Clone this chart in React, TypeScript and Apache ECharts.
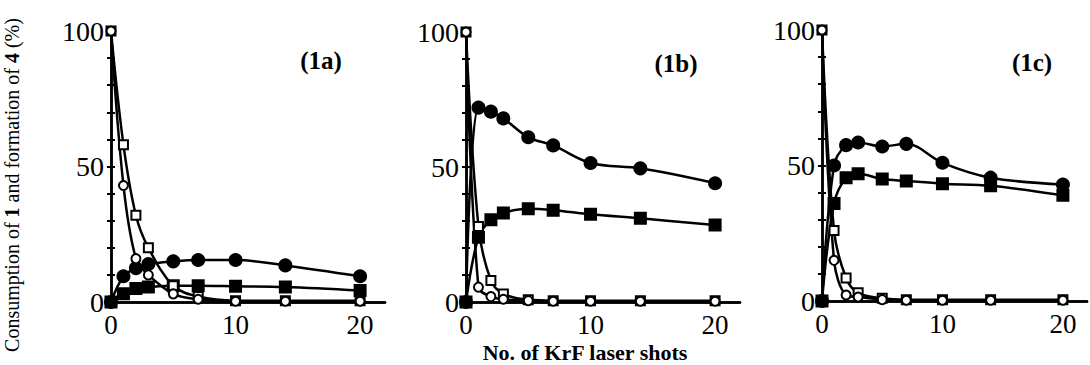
import React, { useEffect, useRef } from "react";
import * as echarts from "echarts";

const SHOTS = [0, 1, 2, 3, 5, 7, 10, 14, 20];
const PANEL_LABELS = ["(1a)", "(1b)", "(1c)"];
const X_TICKS = [0, 10, 20];
const Y_TICKS = [0, 50, 100];

// Panel 1a
const A_OPEN_SQ = [100, 58, 32, 20, 6, 2, 0.5, 0.5, 0.5];
const A_OPEN_CI = [100, 43, 16, 10, 3, 1, 0.3, 0.3, 0.3];
const A_FILL_CI = [0, 9.5, 12.5, 14, 15, 15.5, 15.5, 13.5, 9.5];
const A_FILL_SQ = [0, 3, 5, 5.5, 6, 6, 5.8, 5.5, 4.2];
// Panel 1b
const B_OPEN_SQ = [100, 28, 8, 3, 0.8, 0.5, 0.5, 0.5, 0.5];
const B_OPEN_CI = [100, 5.5, 2, 1, 0.5, 0.3, 0.3, 0.3, 0.3];
const B_FILL_CI = [0, 72, 70.5, 68, 61, 58, 51.5, 49.5, 44];
const B_FILL_SQ = [0, 24, 30.5, 33, 34.5, 34, 32.5, 31, 28.5];
// Panel 1c
const C_OPEN_SQ = [100, 26, 8.5, 3, 1, 0.5, 0.5, 0.5, 0.5];
const C_OPEN_CI = [100, 15, 2.2, 1.5, 0.5, 0.3, 0.3, 0.3, 0.3];
const C_FILL_CI = [0, 50, 57.5, 58.5, 57, 58, 51, 45.5, 43];
const C_FILL_SQ = [0, 36, 45.5, 47, 45, 44.3, 43.3, 42.5, 39];

const PANELS = [
  { openSq: A_OPEN_SQ, openCi: A_OPEN_CI, fillCi: A_FILL_CI, fillSq: A_FILL_SQ },
  { openSq: B_OPEN_SQ, openCi: B_OPEN_CI, fillCi: B_FILL_CI, fillSq: B_FILL_SQ },
  { openSq: C_OPEN_SQ, openCi: C_OPEN_CI, fillCi: C_FILL_CI, fillSq: C_FILL_SQ },
];

const GRIDS = [
  { left: 111, top: 31, width: 274, height: 271 },
  { left: 466, top: 32, width: 274, height: 270 },
  { left: 822, top: 30, width: 271, height: 271 },
];
const LABEL_POS = [
  [321, 60],
  [676, 63],
  [1032, 62],
];

const SERIF = "'Liberation Serif', 'DejaVu Serif', serif";

export default function App() {
  const ref = useRef<HTMLDivElement>(null);
  useEffect(() => {
    if (!ref.current) return;
    const chart = echarts.init(ref.current, undefined, { renderer: "svg" });
    const grid: any[] = [];
    const xAxis: any[] = [];
    const yAxis: any[] = [];
    const series: any[] = [];
    const axisLine = { show: true, lineStyle: { color: "#000", width: 2.5 } };
    GRIDS.forEach((g, i) => {
      grid.push({ ...g, containLabel: false });
      xAxis.push({
        type: "value", gridIndex: i, min: 0, max: 22, interval: 10, position: "bottom",
        axisLine, axisTick: { show: false }, splitLine: { show: false },
        axisLabel: {
          color: "#000", fontFamily: SERIF, fontSize: 27, margin: 9,
          formatter: (v: number) => (X_TICKS.includes(v) ? String(v) : ""),
        },
      });
      xAxis.push({
        type: "value", gridIndex: i, min: 0, max: 22, position: "top",
        axisLine, axisTick: { show: false }, splitLine: { show: false }, axisLabel: { show: false },
      });
      yAxis.push({
        type: "value", gridIndex: i, min: 0, max: 100, interval: 10, position: "left",
        axisLine, splitLine: { show: false },
        axisTick: { show: true, inside: true, length: 4, lineStyle: { color: "#000", width: 2 } },
        axisLabel: {
          color: "#000", fontFamily: SERIF, fontSize: 28, margin: 7, padding: [10, 0, 0, 0],
          formatter: (v: number) => (Y_TICKS.includes(v) ? String(v) : ""),
        },
      });
      yAxis.push({
        type: "value", gridIndex: i, min: 0, max: 100, interval: 10, position: "right",
        axisLine, splitLine: { show: false }, axisLabel: { show: false },
        axisTick: { show: true, inside: true, length: 4, lineStyle: { color: "#000", width: 2 } },
      });
      const p = PANELS[i];
      const mk = (vals: number[], symbol: string, size: number, filled: boolean) => ({
        type: "line", xAxisIndex: i * 2, yAxisIndex: i * 2,
        data: SHOTS.map((x, k) => [x, vals[k]]),
        smooth: 0.35, symbol, symbolSize: size, showSymbol: true,
        lineStyle: { color: "#000", width: 2.5 },
        itemStyle: { color: filled ? "#000" : "#fff", borderColor: "#000", borderWidth: 2 },
        z: filled ? 3 : 4,
      });
      series.push(mk(p.fillCi, "circle", 12, true));
      series.push(mk(p.fillSq, "rect", 11, true));
      series.push(mk(p.openSq, "rect", 9, false));
      series.push(mk(p.openCi, "circle", 9, false));
    });
    const graphic: any[] = PANEL_LABELS.map((t, i) => ({
      type: "text", x: LABEL_POS[i][0], y: LABEL_POS[i][1],
      style: { text: t, fontFamily: SERIF, fontSize: 25, fontWeight: "bold", fill: "#000", align: "center", verticalAlign: "middle" },
    }));
    graphic.push({
      type: "text", x: 585, y: 352,
      style: { text: "No. of KrF laser shots", fontFamily: SERIF, fontSize: 22, fontWeight: "bold", fill: "#000", align: "center", verticalAlign: "middle" },
    });
    graphic.push({
      type: "text", x: 12, y: 185, rotation: Math.PI / 2,
      style: {
        text: "Consumption of {b|1} and formation of {b|4} (%)",
        fontFamily: SERIF, fontSize: 20, fill: "#000", align: "center", verticalAlign: "middle",
        rich: { b: { fontFamily: SERIF, fontSize: 20, fontWeight: "bold", fill: "#000" } },
      },
    });
    chart.setOption({ animation: false, backgroundColor: "#fff", grid, xAxis, yAxis, series, graphic });
    return () => chart.dispose();
  }, []);
  return <div ref={ref} style={{ position: "fixed", left: 0, top: 0, width: 1090, height: 365 }} />;
}
